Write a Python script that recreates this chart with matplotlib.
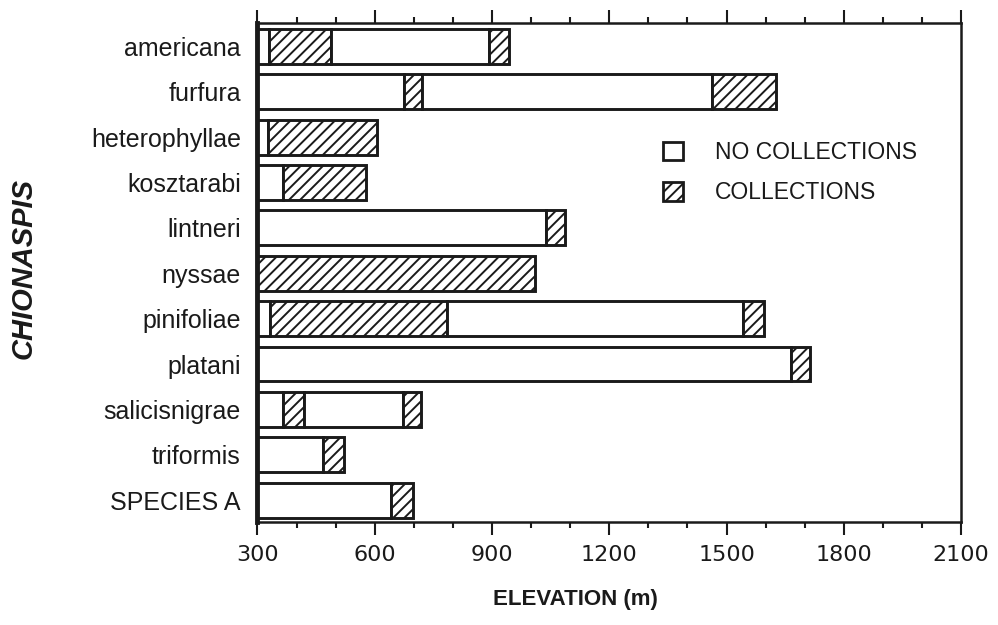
import numpy as np
import matplotlib
matplotlib.use('Agg')
import matplotlib.pyplot as plt
from matplotlib.patches import Patch
from matplotlib.ticker import MultipleLocator

# species, top to bottom
species = ['americana', 'furfura', 'heterophyllae', 'kosztarabi', 'lintneri',
           'nyssae', 'pinifoliae', 'platani', 'salicisnigrae', 'triformis',
           'SPECIES A']

# elevation boundaries (m) of the segments of each bar;
# segments alternate: no collections, collections, no collections, ...
edges = [
    [300, 330, 488, 893, 943],      # americana
    [300, 674, 721, 1463, 1627],    # furfura
    [300, 327, 605],                # heterophyllae
    [300, 364, 577],                # kosztarabi
    [300, 1038, 1087],              # lintneri
    [300, 300, 1011],               # nyssae
    [300, 332, 784, 1541, 1595],    # pinifoliae
    [300, 1666, 1714],              # platani
    [300, 364, 420, 671, 718],      # salicisnigrae
    [300, 468, 522],                # triformis
    [300, 642, 699],                # SPECIES A
]

legend_labels = ['NO COLLECTIONS', 'COLLECTIONS']

plt.rcParams['font.family'] = ['Liberation Sans', 'DejaVu Sans']
plt.rcParams['hatch.linewidth'] = 1.4
ink = '#1a1a1a'

fig = plt.figure(figsize=(9.98, 6.25), dpi=100)
ax = fig.add_axes([0.258, 0.165, 0.705, 0.7984])

ypos = np.arange(len(species))[::-1]
for y, bounds in zip(ypos, edges):
    for k in range(len(bounds) - 1):
        w = bounds[k + 1] - bounds[k]
        if w <= 0:
            continue
        ax.barh(y, w, left=bounds[k], height=0.77, color='white',
                edgecolor=ink, linewidth=2.1,
                hatch='///' if k % 2 == 1 else None)

ax.set_xlim(300, 2100)
ax.set_ylim(-0.48, 10.52)

ax.set_yticks(ypos)
ax.set_yticklabels(species, fontsize=18, color=ink)
ax.tick_params(axis='y', length=0, pad=12)

ax.xaxis.set_major_locator(MultipleLocator(300))
ax.xaxis.set_minor_locator(MultipleLocator(100))
ax.tick_params(axis='x', which='major', direction='out', length=9.5, width=1.5,
               top=True, labeltop=False, labelsize=16, pad=7, colors=ink)
ax.tick_params(axis='x', which='minor', direction='out', length=4.5, width=1.5,
               top=True, colors=ink)
for lbl in ax.get_xticklabels():
    lbl.set_family('DejaVu Sans')

for side in ['top', 'right', 'bottom']:
    ax.spines[side].set_linewidth(1.8)
    ax.spines[side].set_color(ink)
ax.spines['left'].set_linewidth(3.5)
ax.spines['left'].set_color(ink)

handles = [Patch(facecolor='white', edgecolor=ink, linewidth=2),
           Patch(facecolor='white', edgecolor=ink, linewidth=2, hatch='///')]
ax.legend(handles, legend_labels, fontsize=16.5, frameon=False,
          loc='upper left', bbox_to_anchor=(0.664, 1 - 141 / 625),
          bbox_transform=fig.transFigure, borderpad=0, borderaxespad=0,
          handlelength=0.87, handleheight=0.87, handletextpad=1.4,
          labelspacing=0.75, labelcolor=ink)

fig.text(24 / 998, 1 - 268 / 625, 'CHIONASPIS', rotation=90, fontsize=21,
         fontweight='bold', fontstyle='italic', ha='center', va='center',
         color=ink)
fig.text(575 / 998, 1 - 600 / 625, 'ELEVATION (m)', fontsize=16,
         fontweight='bold', ha='center', va='center', color=ink)

fig.savefig('out.png', dpi=100)
